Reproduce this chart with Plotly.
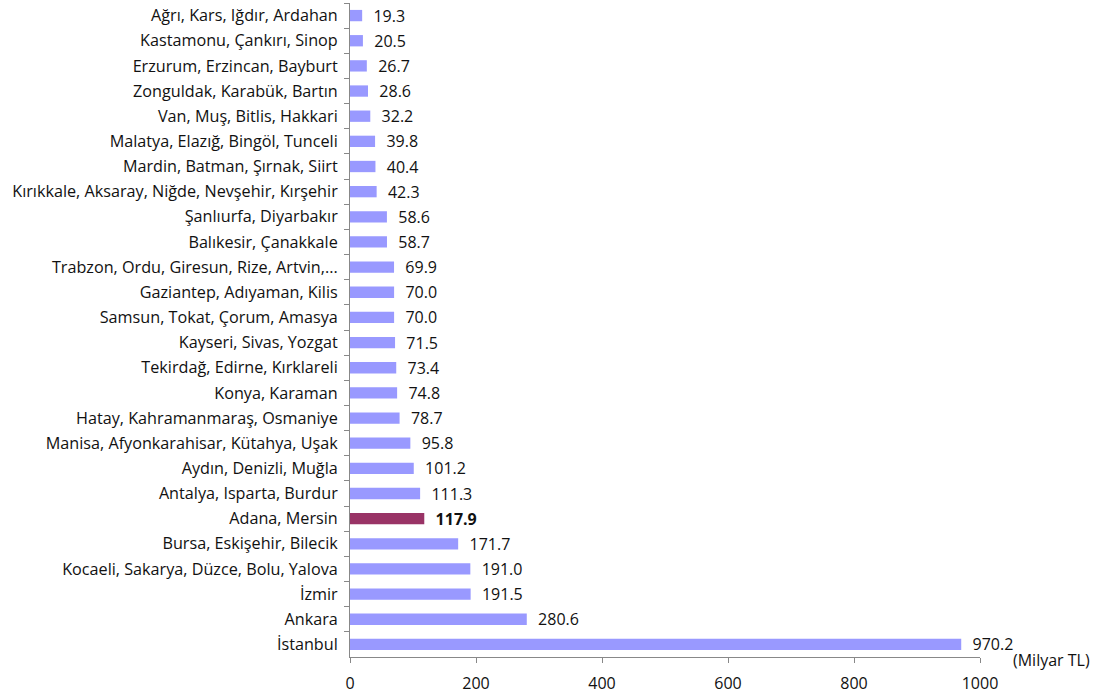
import plotly.graph_objects as go

# Regions, top to bottom as in the chart
regions = [
    'Ağrı, Kars, Iğdır, Ardahan',
    'Kastamonu, Çankırı, Sinop',
    'Erzurum, Erzincan, Bayburt',
    'Zonguldak, Karabük, Bartın',
    'Van, Muş, Bitlis, Hakkari',
    'Malatya, Elazığ, Bingöl, Tunceli',
    'Mardin, Batman, Şırnak, Siirt',
    'Kırıkkale, Aksaray, Niğde, Nevşehir, Kırşehir',
    'Şanlıurfa, Diyarbakır',
    'Balıkesir, Çanakkale',
    'Trabzon, Ordu, Giresun, Rize, Artvin,...',
    'Gaziantep, Adıyaman, Kilis',
    'Samsun, Tokat, Çorum, Amasya',
    'Kayseri, Sivas, Yozgat',
    'Tekirdağ, Edirne, Kırklareli',
    'Konya, Karaman',
    'Hatay, Kahramanmaraş, Osmaniye',
    'Manisa, Afyonkarahisar, Kütahya, Uşak',
    'Aydın, Denizli, Muğla',
    'Antalya, Isparta, Burdur',
    'Adana, Mersin',
    'Bursa, Eskişehir, Bilecik',
    'Kocaeli, Sakarya, Düzce, Bolu, Yalova',
    'İzmir',
    'Ankara',
    'İstanbul',
]
gdp = [19.3, 20.5, 26.7, 28.6, 32.2, 39.8, 40.4, 42.3, 58.6, 58.7,
       69.9, 70.0, 70.0, 71.5, 73.4, 74.8, 78.7, 95.8, 101.2, 111.3,
       117.9, 171.7, 191.0, 191.5, 280.6, 970.2]
highlight = 'Adana, Mersin'

colors = ['#993366' if r == highlight else '#9999FF' for r in regions]
labels = ['  <b>%.1f</b>' % v if r == highlight else '  %.1f' % v
          for r, v in zip(regions, gdp)]

font_family = 'Open Sans, Noto Sans, sans-serif'

fig = go.Figure(go.Bar(
    x=gdp, y=regions, orientation='h',
    marker=dict(color=colors, line=dict(width=0)),
    text=labels, textposition='outside', cliponaxis=False,
    constraintext='none',
    textfont=dict(family=font_family, size=16, color='#111111'),
))

fig.update_layout(
    width=1097, height=696,
    margin=dict(l=350, r=117, t=3, b=39, autoexpand=False),
    paper_bgcolor='white', plot_bgcolor='white',
    bargap=0.55, showlegend=False,
    font=dict(family=font_family, size=16.2, color='#111111'),
    annotations=[dict(
        text='(Milyar TL)', xref='paper', yref='paper', x=1, y=0,
        xanchor='left', yanchor='middle', xshift=31, yshift=-3,
        showarrow=False, font=dict(family=font_family, size=16, color='#111111'),
    )],
)
fig.update_xaxes(
    range=[0, 1000], dtick=200, showgrid=False, zeroline=False,
    showline=True, linecolor='#888888', linewidth=1,
    ticks='outside', ticklen=5, tickcolor='#888888',
    tickfont=dict(size=16), ticklabelstandoff=7, automargin=False,
)
fig.update_yaxes(
    type='category', autorange='reversed', showgrid=False,
    showline=True, linecolor='#888888', linewidth=1,
    ticks='outside', ticklen=5, tickcolor='#888888', tickson='boundaries',
    ticklabelstandoff=8, automargin=False,
)

# remove the default page margin so the figure sits at the window's corner
fig.write_html('out.html', config={'displayModeBar': False},
               post_script="document.body.style.margin='0';")
